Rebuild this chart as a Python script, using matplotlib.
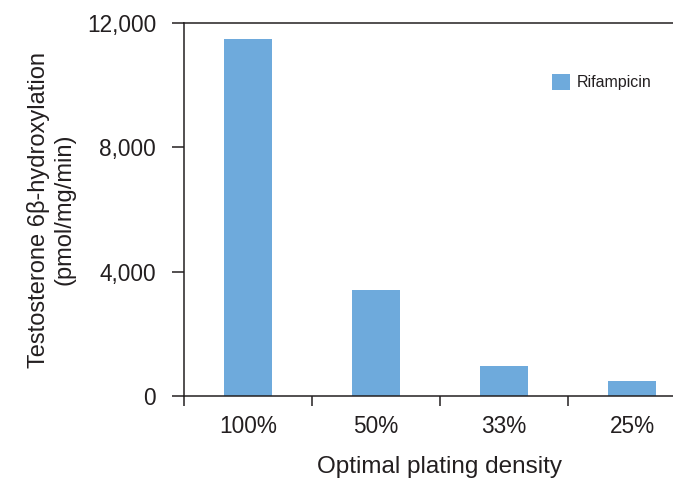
import matplotlib
matplotlib.use("Agg")
import matplotlib.pyplot as plt
from matplotlib.ticker import FuncFormatter, FixedLocator
from matplotlib.patches import Patch

categories = ["100%", "50%", "33%", "25%"]
rifampicin = [11500, 3400, 950, 470]
y_ticks = [0, 4000, 8000, 12000]

plt.rcParams["font.family"] = ["Liberation Sans", "DejaVu Sans"]
text_color = "#231f20"
bar_color = "#6eaadc"

W, H = 673, 483
fig = plt.figure(figsize=(W / 100, H / 100), dpi=100)
left, right, bottom, top = 184, 696, 396, 23
ax = fig.add_axes([left / W, (H - bottom) / H, (right - left) / W, (bottom - top) / H])

x = range(len(categories))
ax.bar(x, rifampicin, width=0.37, color=bar_color, zorder=2)

ax.set_xlim(-0.5, len(categories) - 0.5)
ax.set_ylim(0, 12000)

# Category boundaries carry the tick marks; labels sit at bar centres
ax.xaxis.set_major_locator(FixedLocator([i - 0.5 for i in range(len(categories) + 1)]))
ax.xaxis.set_major_formatter(FuncFormatter(lambda v, p: ""))
ax.xaxis.set_minor_locator(FixedLocator(list(x)))
ax.set_xticklabels(categories, minor=True)
ax.tick_params(axis="x", which="major", direction="out", length=7, width=1.1,
               color=text_color)
ax.tick_params(axis="x", which="minor", length=0, pad=14, labelsize=16.3,
               labelcolor=text_color)

ax.set_yticks(y_ticks)
ax.yaxis.set_major_formatter(FuncFormatter(lambda v, p: f"{int(v):,}"))
ax.tick_params(axis="y", direction="out", length=9, width=1.1, pad=11,
               labelsize=16.3, color=text_color, labelcolor=text_color)

for s in ["left", "bottom", "top"]:
    ax.spines[s].set_color(text_color)
    ax.spines[s].set_linewidth(1.1)
ax.spines["right"].set_visible(False)

ax.set_xlabel("Optimal plating density", fontsize=17.5, color=text_color, labelpad=13)
ax.set_ylabel("Testosterone 6β-hydroxylation\n(pmol/mg/min)", fontsize=17,
              color=text_color, labelpad=8, linespacing=1.2)

handle = Patch(facecolor=bar_color, edgecolor="none", label="Rifampicin")
fig.legend(handles=[handle], loc="upper left",
           bbox_to_anchor=(552 / W, (H - 74) / H), frameon=False,
           fontsize=11.5, handlelength=1.15, handleheight=1.15,
           handletextpad=0.42, borderpad=0, borderaxespad=0,
           labelcolor=text_color)

fig.savefig("out.png", dpi=100)
